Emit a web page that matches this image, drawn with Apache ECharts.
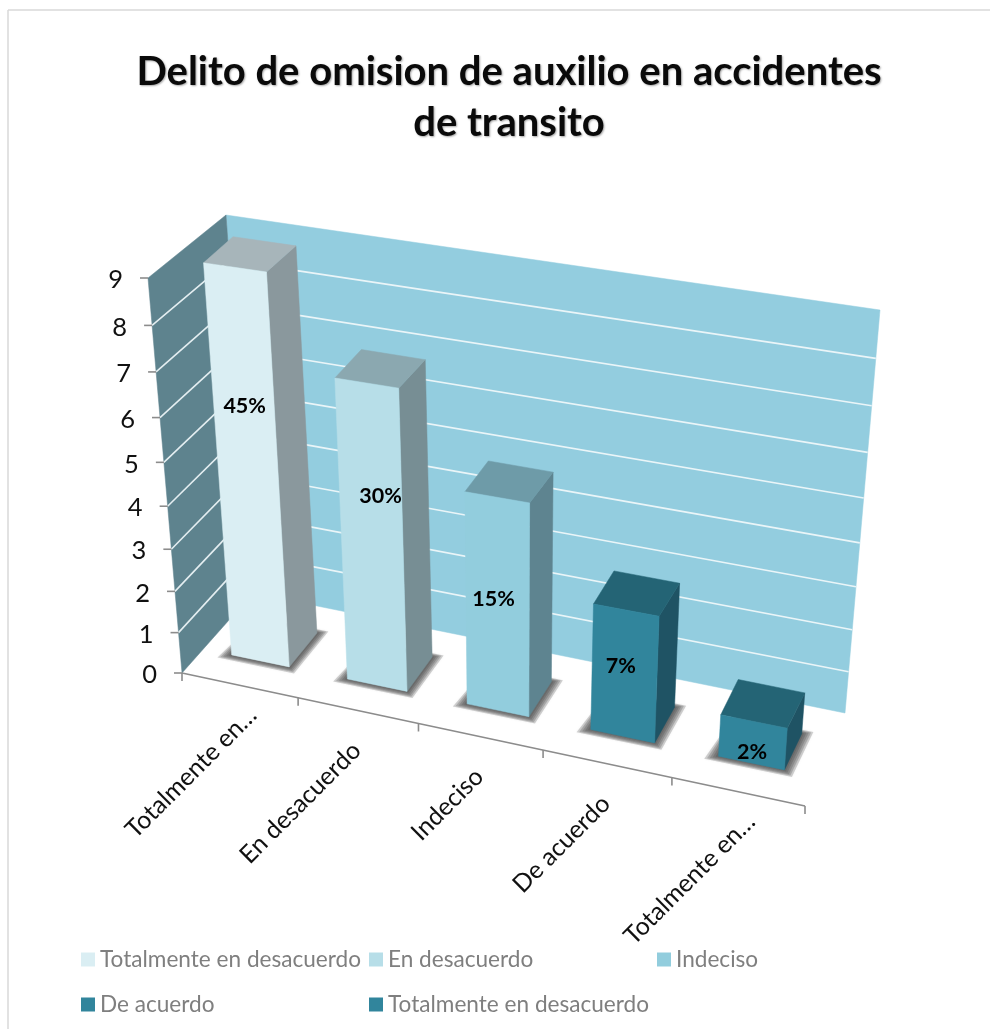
<!DOCTYPE html>
<html>
<head>
<meta charset="utf-8">
<style>html,body{margin:0;padding:0;background:#fff}#c{width:990px;height:1029px}</style>
<script src="https://cdn.jsdelivr.net/npm/echarts@6/dist/echarts.min.js"></script>
</head>
<body>
<div id="c"></div>
<script>
const titleText = 'Delito de omision de auxilio en accidentes\nde transito';
const axisCategories = ['Totalmente en…', 'En desacuerdo', 'Indeciso', 'De acuerdo', 'Totalmente en…'];
const legendNames = ['Totalmente en desacuerdo', 'En desacuerdo', 'Indeciso', 'De acuerdo', 'Totalmente en desacuerdo'];
const barValues = [9, 7, 5, 3, 1];
const barPercents = ['45%', '30%', '15%', '7%', '2%'];
const yTicks = [0, 1, 2, 3, 4, 5, 6, 7, 8, 9];

// styles
const frontColors = ['#DAEEF3', '#B7DEE8', '#92CDDD', '#31859C', '#31859C'];
const sideColors  = ['#8A989D', '#778E94', '#5E8490', '#1F5364', '#1F5364'];
const topColors   = ['#A7B5BA', '#8BA8B0', '#6E9BA8', '#246475', '#246475'];
const labelLift = [0.66, 0.635, 0.53, 0.56, 0.27];
const labelShift = [1, 10, -4, -4, 0];
const legendSlots = [[81, 948], [369, 948], [657, 948], [81, 993], [369, 993]];
const shadowSteps = [5, 4, 3, 2, 1];
const FONT = 'Lato, Carlito, sans-serif';
const GRID = {left: 100, top: 200, width: 700, height: 450};
const YMAX = 9, XMAX = 5;

// projection of chart space onto the picture plane
const yWarp = y => (40 * y + 0.44 * y * y) / (40 * YMAX + 0.44 * YMAX * YMAX);
const lerp = (a, b, t) => [a[0] + (b[0] - a[0]) * t, a[1] + (b[1] - a[1]) * t];
const WALL = {fb: [182, 673], ft: [148, 278], bl: [253, 593], tl: [226, 215], br: [845, 713], tr: [880, 310]};
function backPt(fx, y) {
  const w = yWarp(y);
  return lerp(lerp(WALL.bl, WALL.tl, w), lerp(WALL.br, WALL.tr, w), fx);
}
function edgePt(y) { return lerp(WALL.fb, WALL.ft, yWarp(y)); }
function floorPt(fx) {
  const X = 182 + 570 * fx + 53 * fx * fx;
  return [X, 673 + 0.2135 * (X - 182)];
}
function barPt(fx, y, u, z) {
  const X0 = 203.6 + 563.75 * fx + 50 * fx * fx;
  const Y0 = 661 + 0.208 * (X0 - 261);
  const w = 56.5 + 10.5 * fx + 0.6 * y;
  const lean = -3.5 + 6.7 * fx;
  return [
    X0 + lean * y + u * w + z * (29 - 13 * fx + 0.2 * y),
    Y0 - (41.2 * y + 0.28 * y * y) + u * w * (0.208 - 0.007 * y) + z * (-33.5 - 3 * fx + 0.85 * y)
  ];
}
function toChart(api, a, b) {
  const p = api.coord([a, b]);
  return [(p[0] - GRID.left) / GRID.width, (GRID.top + GRID.height - p[1]) / GRID.height * YMAX];
}
const poly = (points, fill, extra) => Object.assign({
  type: 'polygon', shape: {points},
  style: {fill, stroke: fill, lineWidth: 0.5}
}, extra || {});
const seg = (a, b, stroke, lineWidth) => ({
  type: 'line', shape: {x1: a[0], y1: a[1], x2: b[0], y2: b[1]},
  style: {stroke, lineWidth}
});

const series = [];
// walls
series.push({
  type: 'custom', name: 'walls', silent: true, data: [[0, YMAX]],
  renderItem: (p, api) => ({type: 'group', children: [
    poly([WALL.tl, WALL.tr, WALL.br, WALL.bl], '#93CDDF'),
    poly([WALL.ft, WALL.tl, WALL.bl, WALL.fb], '#5E838E')
  ]})
});
// gridlines and value axis
series.push({
  type: 'custom', name: 'yaxis', silent: true, data: yTicks.map(t => [0, t]),
  renderItem: (p, api) => {
    const c = toChart(api, api.value(0), api.value(1));
    const y = c[1], e = edgePt(y), kids = [];
    if (y > 0 && y < YMAX) {
      kids.push(seg(e, backPt(0, y), '#E4EEF1', 1.6));
      kids.push(seg(backPt(0, y), backPt(1, y), '#EAF5F8', 1.6));
    }
    kids.push(seg([e[0] - 8, e[1]], e, '#8C8C8C', 1.6));
    kids.push({type: 'text', style: {
      text: String(yTicks[p.dataIndex]), x: e[0] - 25, y: e[1] + 2, align: 'right', verticalAlign: 'middle',
      font: '25.5px ' + FONT, fill: '#111'
    }});
    return {type: 'group', children: kids};
  }
});
// category axis
series.push({
  type: 'custom', name: 'xaxis', silent: true, data: [0, 1, 2, 3, 4, 5].map(i => [i, 0]),
  renderItem: (p, api) => {
    const fx = toChart(api, api.value(0), 0)[0];
    const q = floorPt(fx), kids = [seg([q[0], q[1]], [q[0], q[1] + 8], '#8C8C8C', 1.6)];
    if (p.dataIndex === 0) kids.push(seg(floorPt(0), floorPt(1), '#8C8C8C', 1.6));
    if (p.dataIndex < axisCategories.length) {
      const name = axisCategories[p.dataIndex];
      const c = floorPt(toChart(api, api.value(0) + 0.5, 0)[0]);
      const off = name.endsWith('…') ? [13, 26] : [-1, 36];
      kids.push({type: 'text', rotation: Math.PI / 4, x: c[0] + off[0], y: c[1] + off[1], style: {
        text: name, x: 0, y: 0, align: 'right', verticalAlign: 'middle',
        font: '24.8px ' + FONT, fill: '#111'
      }});
    }
    return {type: 'group', children: kids};
  }
});
// bars
barValues.forEach((v, i) => {
  series.push({
    type: 'custom', name: legendNames[i], itemStyle: {color: frontColors[i]},
    data: [[i + 0.5, v]],
    renderItem: (p, api) => {
      const c = toChart(api, api.value(0), api.value(1));
      const fx = c[0], y = c[1];
      const P = (yy, u, z) => barPt(fx, yy, u, z);
      const lab = P(y * labelLift[i], 0, 0);
      const shadows = shadowSteps.map(k => ({
        type: 'polygon',
        shape: {points: [
          P(0, -0.5 - 0.036 * k, -0.028 * k), P(0, 0.5 + 0.03 * k, -0.028 * k),
          P(0, 0.5 + 0.03 * k, 1 + 0.02 * k), P(0, -0.5 - 0.01 * k, 1 + 0.02 * k)
        ]},
        style: {fill: 'rgba(70,70,70,0.24)', shadowBlur: 3, shadowColor: 'rgba(70,70,70,0.2)'}
      }));
      return {type: 'group', children: shadows.concat([
        poly([P(0, 0.5, 0), P(y, 0.5, 0), P(y, 0.5, 1), P(0, 0.5, 1)], sideColors[i]),
        poly([P(y, -0.5, 0), P(y, 0.5, 0), P(y, 0.5, 1), P(y, -0.5, 1)], topColors[i]),
        poly([P(0, -0.5, 0), P(0, 0.5, 0), P(y, 0.5, 0), P(y, -0.5, 0)], frontColors[i]),
        {type: 'text', style: {
          text: barPercents[i], x: lab[0] + labelShift[i], y: lab[1], align: 'center', verticalAlign: 'middle',
          font: 'bold 21.5px ' + FONT, fill: '#000'
        }}
      ])};
    }
  });
});

const chart = echarts.init(document.getElementById('c'), null, {renderer: 'canvas'});
chart.setOption({
  animation: false,
  backgroundColor: '#fff',
  title: {
    text: titleText, left: 504, top: 42, textAlign: 'center',
    textStyle: {fontFamily: FONT, fontWeight: 'bold', fontSize: 40, lineHeight: 51, color: '#0a0a0a',
      textShadowColor: 'rgba(0,0,0,0.35)', textShadowBlur: 2, textShadowOffsetX: 1, textShadowOffsetY: 1}
  },
  grid: GRID,
  xAxis: {type: 'value', min: 0, max: XMAX, interval: 1, show: false},
  yAxis: {type: 'value', min: 0, max: YMAX, interval: 1, show: false},
  legend: legendNames.map((name, i) => ({
    left: legendSlots[i][0], top: legendSlots[i][1], orient: 'horizontal', padding: 0,
    selectedMode: false, itemWidth: 14, itemHeight: 14, itemGap: 0,
    textStyle: {fontFamily: FONT, fontSize: 22.6, color: '#7F7F7F', padding: [0, 0, 0, 0]},
    data: [{name, icon: 'rect', itemStyle: {color: frontColors[i]}}]
  })),
  graphic: [
    {type: 'line', shape: {x1: 8, y1: 10, x2: 990, y2: 10}, style: {stroke: '#D9D9D9', lineWidth: 1.5}, silent: true},
    {type: 'line', shape: {x1: 8, y1: 10, x2: 8, y2: 1029}, style: {stroke: '#D9D9D9', lineWidth: 1.5}, silent: true}
  ],
  series
});
</script>
</body>
</html>
